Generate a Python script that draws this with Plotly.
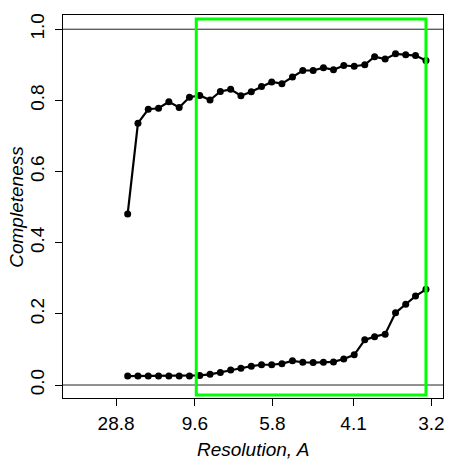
import plotly.graph_objects as go

# Resolution bin centres (Angstrom)
resolution = [22.24, 18.51, 15.85, 13.86, 12.31, 11.07, 10.06, 9.22, 8.51, 7.90,
              7.37, 6.91, 6.50, 6.14, 5.82, 5.53, 5.26, 5.02, 4.80, 4.60,
              4.42, 4.25, 4.09, 3.94, 3.81, 3.68, 3.56, 3.45, 3.35, 3.25]

completeness_upper = [0.481, 0.736, 0.775, 0.778, 0.796, 0.780, 0.809, 0.814, 0.801, 0.825,
                      0.831, 0.813, 0.824, 0.839, 0.852, 0.847, 0.866, 0.884, 0.884, 0.892,
                      0.886, 0.898, 0.896, 0.900, 0.923, 0.916, 0.931, 0.928, 0.926, 0.912]

completeness_lower = [0.025, 0.025, 0.025, 0.025, 0.025, 0.025, 0.025, 0.027, 0.030, 0.035,
                      0.042, 0.047, 0.053, 0.057, 0.057, 0.060, 0.068, 0.064, 0.063, 0.064,
                      0.065, 0.073, 0.085, 0.127, 0.136, 0.143, 0.203, 0.227, 0.250, 0.269]

tick_labels = ["28.8", "9.6", "5.8", "4.1", "3.2"]
tick_resolution = [28.8, 9.6, 5.8, 4.1, 3.2]

# Highlighted resolution window (Angstrom) and completeness span
window_res = [9.49, 3.25]
window_comp = [-0.028, 1.029]
ref_lines = [0.0, 1.0]

inv_res = [1.0 / d for d in resolution]
tick_vals = [1.0 / d for d in tick_resolution]

FONT = "Liberation Sans, Arial, Helvetica, sans-serif"

fig = go.Figure()
for series in (completeness_upper, completeness_lower):
    fig.add_trace(go.Scatter(
        x=inv_res, y=series, mode="lines+markers",
        line=dict(color="black", width=2.2),
        marker=dict(color="black", size=7),
        showlegend=False, hoverinfo="skip",
    ))

shapes = []
for yv in ref_lines:
    shapes.append(dict(type="line", xref="paper", yref="y", x0=0, x1=1, y0=yv, y1=yv,
                       line=dict(color="#222222", width=1)))
shapes.append(dict(type="rect", xref="x", yref="y",
                   x0=1.0 / window_res[0], x1=1.0 / window_res[1],
                   y0=window_comp[0], y1=window_comp[1],
                   line=dict(color="#00ff00", width=3), fillcolor="rgba(0,0,0,0)"))

W, H = 454, 466
ml, mr, mt, mb = 63, 9, 15, 68
pw, ph = W - ml - mr, H - mt - mb

annotations = [
    dict(text="<i>Resolution, A</i>", xref="paper", yref="paper",
         x=0.5, y=-(449 - (H - mb)) / ph, xanchor="center", yanchor="middle",
         showarrow=False, font=dict(family=FONT, size=19, color="black")),
    dict(text="<i>Completeness</i>", xref="paper", yref="paper",
         x=-(ml - 16) / pw, y=0.5, xanchor="center", yanchor="middle", textangle=-90,
         showarrow=False, font=dict(family=FONT, size=19, color="black")),
]

fig.update_layout(
    width=W, height=H,
    margin=dict(l=ml, r=mr, t=mt, b=mb, pad=0),
    paper_bgcolor="white", plot_bgcolor="white",
    font=dict(family=FONT, size=19, color="black"),
    shapes=shapes, annotations=annotations,
    xaxis=dict(range=[-0.012, 0.3227], tickmode="array", tickvals=tick_vals, ticktext=tick_labels,
               showgrid=False, zeroline=False, showline=True, mirror=True, linecolor="black",
               linewidth=1, ticks="outside", ticklen=7, tickcolor="black", tickwidth=1,
               ticklabelstandoff=1),
    yaxis=dict(range=[-0.0365, 1.040], tickmode="array", tickvals=[0, 0.2, 0.4, 0.6, 0.8, 1.0],
               ticktext=["0.0", "0.2", "0.4", "0.6", "0.8", "1.0"], tickangle=-90,
               showgrid=False, zeroline=False, showline=True, mirror=True, linecolor="black",
               linewidth=1, ticks="outside", ticklen=7, tickcolor="black", tickwidth=1,
               ticklabelstandoff=3),
)

fig.write_html("out.html", config={"displayModeBar": False},
               post_script="document.body.style.margin='0';document.body.style.overflow='hidden';")
